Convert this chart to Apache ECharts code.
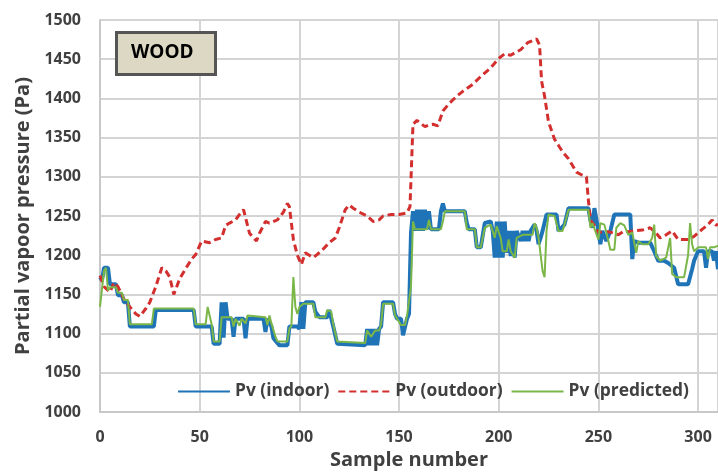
<!DOCTYPE html>
<html>
<head>
<meta charset="utf-8">
<script src="https://cdn.jsdelivr.net/npm/echarts@6/dist/echarts.min.js"></script>
<style>
html,body{margin:0;padding:0;background:#fff;}
#chart{width:718px;height:475px;}
</style>
</head>
<body>
<div id="chart"></div>
<script>
// Sample numbers and values
var indoorX = [0,1,2,4,5,8,9,11,12,14,15,27,28,47,48,56,57,60,61,62,63,64,66,67,68,72,73,74,82,83,84,85,86,87,88,90,94,95,99,100,101,102,103,107,108,110,114,115,116,117,119,120,133,134,135,136,137,138,139,140,141,142,147,148,149,151,152,153,154,155,156,157,158,159,160,161,162,163,164,165,166,170,171,172,173,183,184,185,188,189,191,193,196,197,198,199,200,201,202,203,204,205,206,207,208,209,211,212,213,214,215,216,218,219,220,221,222,224,229,230,233,235,245,246,247,248,249,250,251,252,254,256,258,266,267,268,270,276,278,280,283,285,288,290,295,297,298,300,303,304,305,307,308,309,310];
var indoorY = [1172,1168,1184,1184,1163,1163,1149,1149,1140,1140,1109,1109,1130,1130,1109,1109,1087,1087,1140,1095,1140,1119,1119,1096,1119,1119,1094,1119,1119,1102,1119,1119,1109,1094,1096,1085,1085,1109,1109,1106,1140,1106,1140,1140,1128,1121,1121,1130,1128,1109,1087,1085,1085,1106,1085,1106,1085,1106,1085,1106,1109,1140,1140,1125,1119,1119,1098,1096,1119,1125,1228,1256,1231,1258,1231,1258,1231,1258,1233,1256,1233,1233,1256,1266,1256,1256,1241,1233,1233,1210,1210,1241,1243,1231,1197,1243,1197,1243,1197,1243,1203,1231,1199,1231,1197,1231,1218,1231,1218,1231,1218,1231,1239,1231,1214,1222,1231,1252,1252,1231,1239,1260,1260,1245,1235,1260,1260,1231,1214,1231,1218,1231,1252,1252,1195,1218,1216,1216,1205,1193,1193,1190,1184,1163,1163,1182,1193,1205,1205,1184,1205,1205,1193,1205,1182];

var outdoorX = [0,2,5,7,9,12,15,18,20,23,25,28,31,33,35,37,40,43,46,48,51,55,58,61,63,65,68,70,72,73,75,77,78.5,80,83,85,89,92,94,95,97,99,101,103,105,107,109,112,115,118,120,123,125,127,130,134,137,140,142,146,150,154,155.5,157,159,161,163,165,167,169.5,172,175,179,182,187,191,196,200,203,206,208,211,214.5,219,220.5,221.5,223,225,228,230,232,235,239,242,244,245,246,248,250,253,255,258,260,263,265,268,272,276,279,281,284,287,290,295,298,302,305,307,309,310];
var outdoorY = [1174,1160,1153,1165,1160,1144,1134,1125,1122,1132,1140,1160,1184,1180,1172,1150,1170,1183,1195,1201,1218,1216,1220,1222,1238,1241,1245,1252,1258,1256,1228,1222,1218,1228,1243,1241,1245,1255,1266,1262,1220,1200,1188,1203,1200,1197,1201,1208,1216,1222,1235,1258,1264,1260,1255,1250,1243,1245,1250,1252,1252,1254,1262,1367,1372,1368,1364,1366,1367,1365,1384,1393,1403,1409,1418,1428,1439,1451,1457,1455,1458,1462,1471,1476,1468,1422,1403,1370,1348,1340,1332,1323,1306,1302,1300,1270,1245,1238,1229,1230,1230,1228,1226,1231,1230,1231,1232,1235,1228,1222,1226,1231,1220,1220,1224,1233,1239,1245,1238,1240];

var predictedX = [0,1,2,3,4,5,8,9,11,12,14,15,26,27,47,48,53,54,55,56,57,60,61,66,67,68,70,71,73,74,75,83,84,85,86,88,89,94,95,96,97,98,99,100,102,107,108,113,114,116,117,119,120,133,134,136,138,140,141,142,147,148,149,151,153,154,155,156,157,158,164,165,166,171,172,173,183,184,188,189,191,193,196,198,199,201,202,204,205,206,208,209,212,217,218,219,220,222,223,224,225,228,230,232,233,235,245,246,247,248,250,251,253,255,256,258,259,261,263,265,267,269,270,272,275,277,278,279,281,284,286,287,289,293,295,296,297,298,300,304,305,306,308,310];
var predictedY = [1134,1134,1180,1184,1155,1159,1159,1152,1152,1143,1143,1112,1112,1132,1132,1112,1112,1134,1134,1112,1090,1090,1121,1121,1109,1119,1110,1119,1113,1123,1121,1121,1111,1123,1113,1096,1090,1090,1106,1110,1172,1134,1125,1134,1138,1138,1121,1121,1130,1128,1112,1090,1088,1088,1104,1096,1104,1104,1112,1138,1138,1123,1121,1111,1111,1123,1123,1160,1243,1233,1233,1245,1233,1233,1243,1256,1256,1233,1233,1210,1210,1235,1239,1222,1237,1222,1205,1205,1220,1205,1197,1222,1226,1226,1241,1235,1222,1180,1172,1231,1252,1250,1231,1231,1239,1258,1258,1235,1241,1241,1220,1241,1239,1218,1207,1207,1235,1241,1238,1226,1229,1203,1218,1214,1214,1222,1239,1199,1193,1197,1222,1176,1172,1172,1200,1241,1214,1205,1210,1210,1195,1210,1210,1212];

var yTicks = [1000,1050,1100,1150,1200,1250,1300,1350,1400,1450,1500];
var xTicks = [0,50,100,150,200,250,300];
var seriesNames = ['Pv (indoor)','Pv (outdoor)','Pv (predicted)'];

function pairs(xs, ys){ var out=[]; for (var i=0;i<xs.length;i++) out.push([xs[i], ys[i]]); return out; }

var FONT = '"Open Sans", "Noto Sans", sans-serif';
var chart = echarts.init(document.getElementById('chart'));
chart.setOption({
  animation: false,
  backgroundColor: '#ffffff',
  grid: {left: 100, right: 0, top: 20, bottom: 59, containLabel: false},
  legend: {
    left: 172, top: 378,
    itemWidth: 52, itemHeight: 14, itemGap: 8,
    itemStyle: {opacity: 0},
    textStyle: {fontFamily: FONT, fontWeight: 'bold', fontSize: 17.4, color: '#404040'},
    data: seriesNames
  },
  xAxis: {
    type: 'value', min: xTicks[0], max: 310, interval: 50,
    name: 'Sample number', nameLocation: 'middle', nameGap: 38,
    nameTextStyle: {fontFamily: FONT, fontWeight: 'bold', fontSize: 20, color: '#404040'},
    axisLine: {show: true, lineStyle: {color: '#c8c8c8', width: 2}},
    axisTick: {show: false},
    axisLabel: {fontFamily: FONT, fontWeight: 'bold', fontSize: 16, color: '#404040', margin: 17, showMaxLabel: false,
      formatter: function(v){ return String(v); }},
    splitLine: {show: true, lineStyle: {color: '#d4d4d4', width: 2}}
  },
  yAxis: {
    type: 'value', min: yTicks[0], max: yTicks[yTicks.length-1], interval: 50,
    name: 'Partial vapoor pressure (Pa)', nameLocation: 'middle', nameGap: 62,
    nameTextStyle: {fontFamily: FONT, fontWeight: 'bold', fontSize: 20, color: '#404040'},
    axisLine: {show: true, lineStyle: {color: '#c8c8c8', width: 2}},
    axisTick: {show: false},
    axisLabel: {fontFamily: FONT, fontWeight: 'bold', fontSize: 16, color: '#404040', margin: 19,
      formatter: function(v){ return String(v); }},
    splitLine: {show: true, lineStyle: {color: '#d4d4d4', width: 2}}
  },
  series: [
    {name: seriesNames[0], type: 'line', symbol: 'none', data: pairs(indoorX, indoorY),
     lineStyle: {color: '#1f74b8', width: 4}, itemStyle: {color: '#1f74b8'}},
    {name: seriesNames[1], type: 'line', symbol: 'none', data: pairs(outdoorX, outdoorY),
     lineStyle: {color: '#d32f2f', width: 3, type: [7,4]}, itemStyle: {color: '#d32f2f'}},
    {name: seriesNames[2], type: 'line', symbol: 'none', data: pairs(predictedX, predictedY),
     lineStyle: {color: '#7ab648', width: 2}, itemStyle: {color: '#7ab648'}}
  ],
  graphic: [
    {type: 'rect', left: 115, top: 31, z: 10,
     shape: {x: 0, y: 0, width: 99, height: 42},
     style: {fill: '#ddd8c3', stroke: '#555555', lineWidth: 3}},
    {type: 'text', left: 131, top: 43, z: 11,
     style: {text: 'WOOD', fontFamily: FONT, fontWeight: 'bold', fontSize: 19, fill: '#000000'}}
  ]
});
</script>
</body>
</html>
